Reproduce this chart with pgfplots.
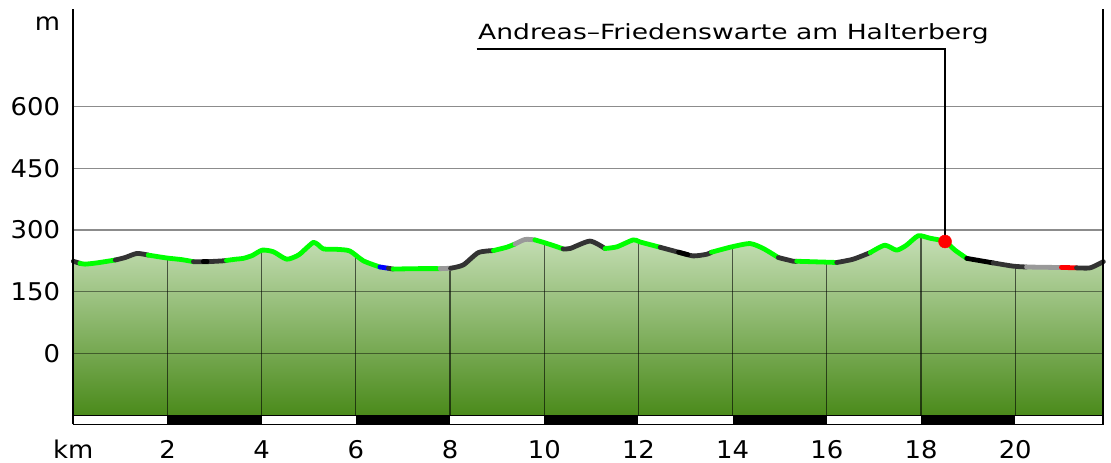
\documentclass[border=0pt]{standalone}
\usepackage{fontspec}
\setmainfont{DejaVu Sans}
\usepackage{pgfplots}
\pgfplotsset{compat=1.18}
\definecolor{pgreen}{HTML}{00FF00}
\definecolor{pdark}{HTML}{333333}
\definecolor{plight}{HTML}{999999}
\definecolor{ftop}{HTML}{C6DFB6}
\definecolor{fbot}{HTML}{4A8A1A}
\pgfplotsset{seg/.style={line width=4.8bp, line cap=round, line join=round, smooth, tension=0.4}}
\begin{document}
\begin{tikzpicture}[x=1bp,y=1bp]
\begin{axis}[
 at={(0,0)}, anchor=south west,
 scale only axis, width=1030bp, height=415bp,
 xmin=0, xmax=21.87, ymin=-172.4, ymax=836.6,
 axis line style={draw=none},
 xtick={0,2,4,6,8,10,12,14,16,18,20},
 xticklabels={km,2,4,6,8,10,12,14,16,18,20},
 ytick={0,150,300,450,600},
 yticklabels={0,150,300,450,600},
 extra y ticks={802.6}, extra y tick labels={m},
 major tick length=0pt,
 tick style={draw=none},
 clip=false,
 ticklabel style={font=\fontsize{24.5}{24.5}\selectfont},
 xticklabel style={inner sep=0pt, anchor=base, yshift=-34.2bp, xscale=1.06},
 yticklabel style={inner sep=0pt, anchor=east, xshift=-13bp, xscale=1.06},
 /pgf/number format/assume math mode=true,
]
% fill
\addplot[draw=none, top color=ftop, bottom color=fbot] coordinates {
(0,224)(0.14,219)(0.25,217)(0.5,220)(0.89,227)(1.1,233)(1.35,243)(1.59,239)(1.98,232)(2.3,228)(2.55,223)(2.85,223)(3.18,225)(3.25,226)(3.45,229)(3.61,231)(3.8,238)(4.01,251)(4.25,247)(4.53,229)(4.78,239)(4.95,256)(5.10,270)(5.2,264)(5.31,254)(5.59,253)(5.87,249)(6.16,225)(6.51,210)(6.69,207)(6.79,205)(7.3,206)(7.79,206)(8.01,207)(8.28,215)(8.60,245)(8.92,250)(9.2,258)(9.38,266)(9.59,277)(9.80,276)(9.98,270)(10.20,262)(10.40,254)(10.55,255)(10.97,273)(11.29,255)(11.54,259)(11.89,276)(12.03,271)(12.46,258)(12.85,246)(13.16,237)(13.45,241)(13.55,246)(13.98,259)(14.37,267)(14.65,255)(14.97,233)(15.29,224)(15.36,224)(15.64,223)(16.21,221)(16.56,229)(16.92,245)(17.23,263)(17.48,251)(17.69,263)(17.94,286)(18.19,280)(18.51,272)(18.72,251)(18.97,231)(19.53,220)(19.96,212)(20.24,210)(20.81,209)(20.98,209)(21.3,208)(21.59,208)(21.87,223)(21.87,-151.5)(0,-151.5)} -- cycle;
% horizontal grid
\addplot[black, opacity=0.45, line width=1.3bp] coordinates {(0,0)(21.87,0)};
\addplot[black, opacity=0.45, line width=1.3bp] coordinates {(0,150)(21.87,150)};
\addplot[black, opacity=0.45, line width=1.3bp] coordinates {(0,300)(21.87,300)};
\addplot[black, opacity=0.45, line width=1.3bp] coordinates {(0,450)(21.87,450)};
\addplot[black, opacity=0.45, line width=1.3bp] coordinates {(0,600)(21.87,600)};
% vertical grid under the curve
\addplot[black, opacity=0.6, line width=1.2bp] coordinates {(2,-151.5)(2,232)};
\addplot[black, opacity=0.6, line width=1.2bp] coordinates {(4,-151.5)(4,250)};
\addplot[black, opacity=0.6, line width=1.2bp] coordinates {(6,-151.5)(6,238)};
\addplot[black, opacity=0.6, line width=1.2bp] coordinates {(8,-151.5)(8,207)};
\addplot[black, opacity=0.6, line width=1.2bp] coordinates {(10,-151.5)(10,269)};
\addplot[black, opacity=0.6, line width=1.2bp] coordinates {(12,-151.5)(12,272)};
\addplot[black, opacity=0.6, line width=1.2bp] coordinates {(14,-151.5)(14,259)};
\addplot[black, opacity=0.6, line width=1.2bp] coordinates {(16,-151.5)(16,222)};
\addplot[black, opacity=0.6, line width=1.2bp] coordinates {(18,-151.5)(18,285)};
\addplot[black, opacity=0.6, line width=1.2bp] coordinates {(20,-151.5)(20,212)};
% scale bar
\addplot[fill=white, draw=black, line width=1bp] coordinates {(0,-172.4)(21.87,-172.4)(21.87,-151.5)(0,-151.5)} -- cycle;
\addplot[fill=black, draw=none] coordinates {(2,-172.4)(4,-172.4)(4,-151.5)(2,-151.5)} -- cycle;
\addplot[fill=black, draw=none] coordinates {(6,-172.4)(8,-172.4)(8,-151.5)(6,-151.5)} -- cycle;
\addplot[fill=black, draw=none] coordinates {(10,-172.4)(12,-172.4)(12,-151.5)(10,-151.5)} -- cycle;
\addplot[fill=black, draw=none] coordinates {(14,-172.4)(16,-172.4)(16,-151.5)(14,-151.5)} -- cycle;
\addplot[fill=black, draw=none] coordinates {(18,-172.4)(20,-172.4)(20,-151.5)(18,-151.5)} -- cycle;
% profile segments
\addplot[seg, pdark] coordinates {(0,224)(0.14,219)};
\addplot[seg, pgreen] coordinates {(0.14,219)(0.25,217)(0.5,220)(0.89,227)};
\addplot[seg, pdark] coordinates {(0.89,227)(1.1,233)(1.35,243)(1.59,239)};
\addplot[seg, pgreen] coordinates {(1.59,239)(1.98,232)(2.3,228)(2.55,223)};
\addplot[seg, pdark] coordinates {(2.55,223)(2.85,223)(3.18,225)(3.25,226)};
\addplot[seg, black] coordinates {(2.76,223)(2.84,223)};
\addplot[seg, pgreen] coordinates {(3.25,226)(3.45,229)(3.61,231)(3.8,238)(4.01,251)(4.25,247)(4.53,229)(4.78,239)(4.95,256)(5.10,270)(5.2,264)(5.31,254)(5.59,253)(5.87,249)(6.16,225)(6.51,210)};
\addplot[seg, blue] coordinates {(6.51,210)(6.69,207)};
\addplot[seg, pdark] coordinates {(6.69,207)(6.79,205)};
\addplot[seg, pgreen] coordinates {(6.79,205)(7.3,206)(7.79,206)};
\addplot[seg, plight] coordinates {(7.79,206)(8.01,207)};
\addplot[seg, pdark] coordinates {(8.01,207)(8.28,215)(8.60,245)(8.92,250)};
\addplot[seg, pgreen] coordinates {(8.92,250)(9.2,258)(9.38,266)};
\addplot[seg, plight] coordinates {(9.38,266)(9.59,277)(9.80,276)};
\addplot[seg, pgreen] coordinates {(9.80,276)(9.98,270)(10.20,262)(10.40,254)};
\addplot[seg, pdark] coordinates {(10.40,254)(10.55,255)(10.97,273)(11.29,255)};
\addplot[seg, pgreen] coordinates {(11.29,255)(11.54,259)(11.89,276)(12.03,271)(12.46,258)};
\addplot[seg, pdark] coordinates {(12.46,258)(12.85,246)(13.16,237)(13.45,241)(13.55,246)};
\addplot[seg, black] coordinates {(12.85,246)(13.05,240)};
\addplot[seg, pgreen] coordinates {(13.55,246)(13.98,259)(14.37,267)(14.65,255)(14.97,233)};
\addplot[seg, pdark] coordinates {(14.97,233)(15.29,224)(15.36,224)};
\addplot[seg, pgreen] coordinates {(15.36,224)(15.64,223)(16.21,221)};
\addplot[seg, pdark] coordinates {(16.21,221)(16.56,229)(16.92,245)};
\addplot[seg, pgreen] coordinates {(16.92,245)(17.23,263)(17.48,251)(17.69,263)(17.94,286)(18.19,280)(18.51,272)(18.72,251)(18.97,231)};
\addplot[seg, black] coordinates {(18.97,231)(19.53,220)};
\addplot[seg, pdark] coordinates {(19.53,220)(19.96,212)(20.24,210)};
\addplot[seg, plight] coordinates {(20.24,210)(20.81,209)(20.98,209)};
\addplot[seg, red] coordinates {(20.98,209)(21.3,208)};
\addplot[seg, pdark] coordinates {(21.3,208)(21.59,208)(21.87,223)};
% axis side lines
\draw[black, line width=2.3bp] (rel axis cs:0,0) -- (rel axis cs:0,1);
\draw[black, line width=2.3bp] (rel axis cs:1,0) -- (rel axis cs:1,1);
% annotation
\addplot[black, line width=2bp] coordinates {(8.565,739.4)(18.51,739.4)(18.51,272)};
\addplot[only marks, mark=*, mark size=6.5bp, color=red] coordinates {(18.51,272)};
\node[anchor=base west, inner sep=0pt, xscale=1.27, font=\fontsize{21}{21}\selectfont] at (axis cs:8.59,763.7) {Andreas–Friedenswarte am Halterberg};
\end{axis}
\pgfresetboundingbox
\path[use as bounding box] (-73.3,-38.7) rectangle (1037.7,424.3);
\end{tikzpicture}
\end{document}
